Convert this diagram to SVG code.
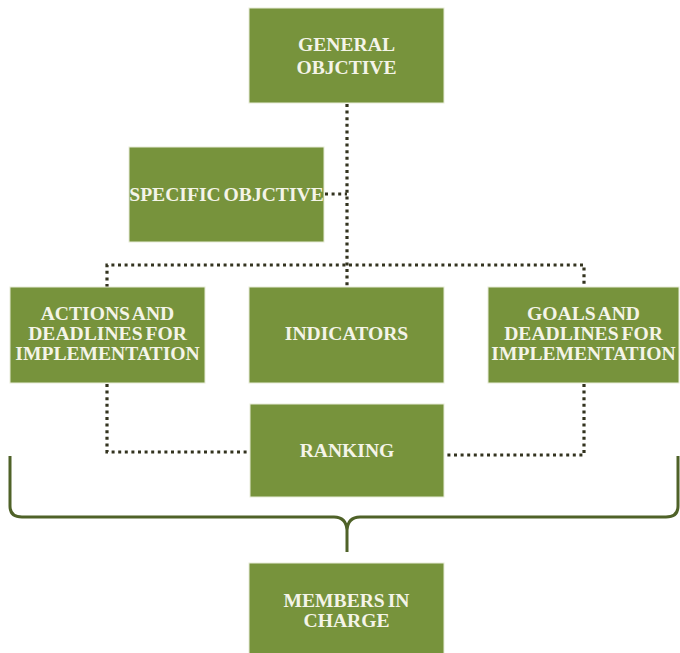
<svg xmlns="http://www.w3.org/2000/svg" width="680" height="653" viewBox="0 0 680 653">
<style>
.box{fill:#77933c;stroke:#e8ecd8;stroke-width:1}
.t{font-family:'Liberation Serif','DejaVu Serif',serif;font-weight:bold;font-size:19.6px;word-spacing:-2px;fill:#f4f4e8;text-anchor:middle}
.dot{fill:none;stroke:#33331f;stroke-width:3.2;stroke-dasharray:3 3.6}
.brace{fill:none;stroke:#4f6228;stroke-width:3}
</style>
<rect width="680" height="653" fill="#ffffff"/>
<g id="connectors">
<path class="dot" d="M347 104 V287"/>
<path class="dot" d="M325 194 H347"/>
<path class="dot" d="M107 287 V265 H584 V287"/>
<path class="dot" d="M107 384 V452 H249"/>
<path class="dot" d="M584 384 V455 H445"/>
<path class="brace" d="M10 456 V506 Q10 517 22 517 H334 Q346 517 347 530 V552 M678 456 V506 Q678 517 666 517 H360 Q348 517 347 530"/>
</g>
<g id="general"><rect class="box" x="249" y="8" width="195" height="95"/><text class="t" x="346.5" y="51">GENERAL</text><text class="t" x="346.5" y="74">OBJCTIVE</text></g>
<g id="specific"><rect class="box" x="129" y="147" width="195" height="95"/><text class="t" x="226.5" y="201">SPECIFIC OBJCTIVE</text></g>
<g id="actions"><rect class="box" x="10" y="287" width="195" height="96"/><text class="t" x="107.5" y="320">ACTIONS AND</text><text class="t" x="107.5" y="340">DEADLINES FOR</text><text class="t" x="107.5" y="360">IMPLEMENTATION</text></g>
<g id="indicators"><rect class="box" x="249" y="287" width="195" height="96"/><text class="t" x="346.5" y="340">INDICATORS</text></g>
<g id="goals"><rect class="box" x="488" y="287" width="191" height="96"/><text class="t" x="583.5" y="320">GOALS AND</text><text class="t" x="583.5" y="340">DEADLINES FOR</text><text class="t" x="583.5" y="360">IMPLEMENTATION</text></g>
<g id="ranking"><rect class="box" x="250" y="404" width="194" height="93"/><text class="t" x="347" y="457">RANKING</text></g>
<g id="members"><rect class="box" x="249" y="563" width="195" height="95"/><text class="t" x="346.5" y="607">MEMBERS IN</text><text class="t" x="346.5" y="627">CHARGE</text></g>
</svg>
